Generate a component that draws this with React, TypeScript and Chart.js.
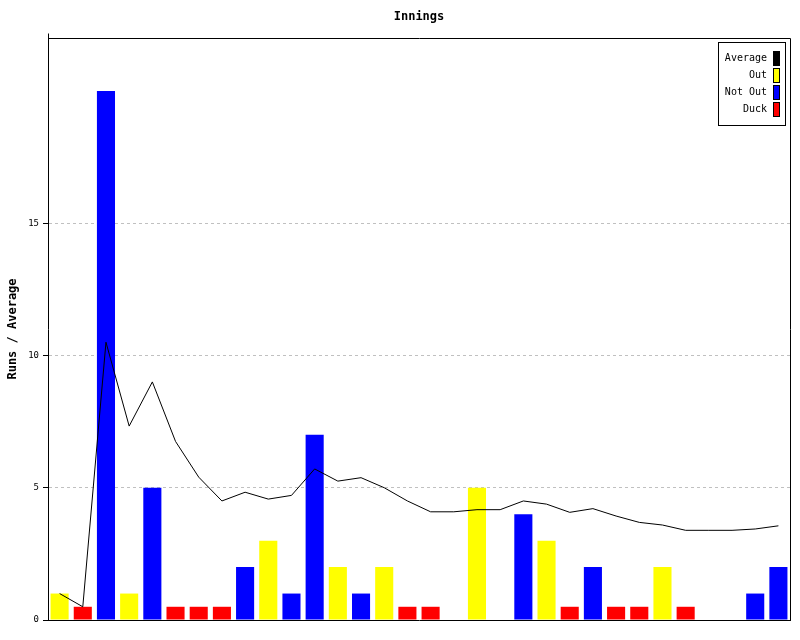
import React, { useEffect, useRef } from "react";
import { Chart, registerables } from "chart.js";

Chart.register(...registerables);

const categories = [
  "1", "2", "3", "4", "5", "6", "7", "8",
  "9", "10", "11", "12", "13", "14", "15", "16",
  "17", "18", "19", "20", "21", "22", "23", "24",
  "25", "26", "27", "28", "29", "30", "31", "32",
];

const averageValues = [
  1, 0.5, 10.5, 7.33, 9, 6.75, 5.4, 4.5,
  4.83, 4.57, 4.71, 5.71, 5.25, 5.38, 5, 4.5,
  4.09, 4.09, 4.17, 4.17, 4.5, 4.38, 4.07, 4.21,
  3.93, 3.69, 3.59, 3.39, 3.39, 3.39, 3.44, 3.56,
];

const outValues = [
  1, null, null, 1, null, null, null, null,
  null, 3, null, null, 2, null, 2, null,
  null, null, 5, null, null, 3, null, null,
  null, null, 2, null, null, null, null, null,
];

const notOutValues = [
  null, null, 20, null, 5, null, null, null,
  2, null, 1, 7, null, 1, null, null,
  null, null, null, null, 4, null, null, 2,
  null, null, null, null, null, null, 1, 2,
];

const duckValues = [
  null, 0.5, null, null, null, 0.5, 0.5, 0.5,
  null, null, null, null, null, null, null, 0.5,
  0.5, null, null, null, null, null, 0.5, null,
  0.5, 0.5, null, 0.5, null, null, null, null,
];

const yTickValues = [0, 5, 10, 15];
const yMax = 22;

const chartTitle = "Innings";
const yAxisTitle = "Runs / Average";

const MONO = "'DejaVu Sans Mono', monospace";

const decorPlugin = {
  id: "decor",
  afterDraw(chart: any) {
    const { ctx, chartArea } = chart;
    const { left, right, top, bottom } = chartArea;
    ctx.save();
    // title centred over plot area
    ctx.fillStyle = "#000";
    ctx.font = `bold 12px ${MONO}`;
    ctx.textAlign = "center";
    ctx.textBaseline = "middle";
    ctx.fillText(chartTitle, (left + right) / 2, 17);

    // frame: top and right borders
    ctx.strokeStyle = "#000";
    ctx.lineWidth = 1;
    ctx.beginPath();
    const l = Math.round(left) + 0.5;
    const r = Math.round(right) + 0.5;
    const t = Math.round(top) + 0.5;
    const b = Math.round(bottom) + 0.5;
    ctx.moveTo(l, t);
    ctx.lineTo(r, t);
    ctx.lineTo(r, b);
    ctx.moveTo(l, t - 5);
    ctx.lineTo(l, t);
    ctx.stroke();

    // legend box
    const bx = 718.5;
    const by = 42.5;
    const bw = 67;
    const bh = 83;
    ctx.fillStyle = "#fff";
    ctx.fillRect(bx, by, bw, bh);
    ctx.strokeRect(bx, by, bw, bh);

    ctx.font = `10px ${MONO}`;
    ctx.textAlign = "right";
    ctx.textBaseline = "middle";
    chart.data.datasets.forEach((ds: any, i: number) => {
      const cy = 58 + i * 17;
      ctx.fillStyle = "#000";
      ctx.fillText(ds.label, 767, cy);
      const color = ds.type === "line" ? ds.borderColor : ds.backgroundColor;
      ctx.fillStyle = color;
      ctx.fillRect(773, cy - 7, 7, 15);
      ctx.strokeStyle = "#000";
      ctx.strokeRect(773.5, cy - 6.5, 6, 14);
    });
    ctx.restore();
  },
};

export default function App() {
  const canvasRef = useRef<HTMLCanvasElement | null>(null);

  useEffect(() => {
    document.body.style.margin = "0";
    const canvas = canvasRef.current;
    if (!canvas) return;
    const chart = new Chart(canvas, {
      type: "bar",
      data: {
        labels: categories,
        datasets: [
          {
            type: "line",
            label: "Average",
            data: averageValues,
            borderColor: "#000000",
            backgroundColor: "#000000",
            borderWidth: 1,
            pointRadius: 0,
            tension: 0,
            fill: false,
            order: 0,
          } as any,
          {
            type: "bar",
            label: "Out",
            data: outValues,
            backgroundColor: "#ffff00",
            grouped: false,
            order: 1,
          } as any,
          {
            type: "bar",
            label: "Not Out",
            data: notOutValues,
            backgroundColor: "#0000ff",
            grouped: false,
            order: 1,
          } as any,
          {
            type: "bar",
            label: "Duck",
            data: duckValues,
            backgroundColor: "#ff0000",
            grouped: false,
            order: 1,
          } as any,
        ],
      },
      options: {
        responsive: false,
        animation: false,
        devicePixelRatio: 1,
        layout: { padding: { top: 38, right: 10, bottom: 0, left: 0 } },
        datasets: {
          bar: { barPercentage: 0.78, categoryPercentage: 1 },
        },
        plugins: {
          legend: { display: false },
          title: { display: false },
          tooltip: { enabled: false },
        },
        scales: {
          x: {
            grid: { display: false },
            ticks: { display: false },
            border: { display: true, color: "#000", width: 1 },
            afterFit: (scale: any) => {
              scale.height = 20;
            },
          },
          y: {
            min: 0,
            max: yMax,
            afterBuildTicks: (scale: any) => {
              scale.ticks = yTickValues.map((v) => ({ value: v }));
            },
            afterFit: (scale: any) => {
              scale.width = 48;
            },
            ticks: {
              color: "#000",
              font: { family: MONO, size: 9 },
              padding: 4,
            },
            grid: {
              color: (c: any) => (c.tick && c.tick.value === 0 ? "rgba(0,0,0,0)" : "#c0c0c0"),
              tickColor: "#000",
              tickLength: 5,
              drawTicks: true,
            },
            border: { display: true, color: "#000", width: 1, dash: [3, 3] },
            title: {
              display: true,
              text: yAxisTitle,
              color: "#000",
              font: { family: MONO, size: 12, weight: "bold" },
              padding: { top: 6, bottom: 0 },
            },
          },
        },
      },
      plugins: [decorPlugin],
    } as any);
    return () => chart.destroy();
  }, []);

  return (
    <div style={{ width: 800, height: 640 }}>
      <canvas ref={canvasRef} width={800} height={640} style={{ display: "block" }} />
    </div>
  );
}
